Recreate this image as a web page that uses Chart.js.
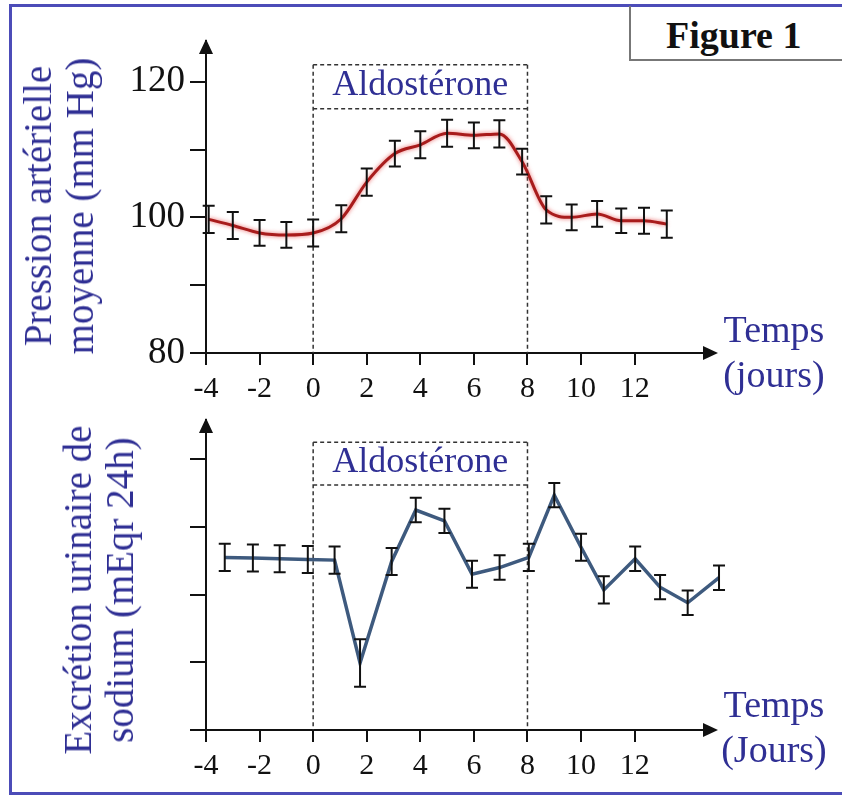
<!DOCTYPE html>
<html lang="fr">
<head>
<meta charset="UTF-8">
<title>Figure 1 - Aldostérone</title>
<script src="https://cdn.jsdelivr.net/npm/chart.js"></script>
<style>
    body {
        margin: 0;
        width: 842px;
        height: 796px;
        position: relative;
        overflow: hidden;
        background: #fff;
        font-family: 'Liberation Serif', 'Times New Roman', serif;
    }
    #frame {
        position: absolute;
        left: 9px;
        top: 4px;
        width: 850px;
        height: 785px;
        border: 3px solid #4c4cb8;
    }
    #figbox {
        position: absolute;
        left: 629px;
        top: 6px;
        width: 260px;
        height: 53px;
        border: 2px solid #777;
        border-top: none;
    }
    #figtext {
        position: absolute;
        left: 666px;
        top: 14px;
        font-size: 38px;
        line-height: 42px;
        font-weight: bold;
        color: #111;
    }
    .ytitle {
        position: absolute;
        transform: translate(-50%, -50%) rotate(-90deg);
        white-space: nowrap;
        text-align: center;
        font-size: 39px;
        line-height: 42px;
        color: #2f2f94;
    }
    .xtitle {
        position: absolute;
        width: 120px;
        text-align: center;
        font-size: 38px;
        line-height: 45px;
        color: #2f2f94;
    }
    .chart-box {
        position: absolute;
        left: 0;
        width: 842px;
    }
</style>
</head>
<body>
<div id="frame"></div>
<div id="figbox"></div>
<div id="figtext">Figure 1</div>

<div class="chart-box" style="top:0; height:410px;"><canvas id="pressureChart"></canvas></div>
<div class="chart-box" style="top:410px; height:386px;"><canvas id="sodiumChart"></canvas></div>

<div class="ytitle" style="left:59px; top:206px;">Pression artérielle<br>moyenne (mm Hg)</div>
<div class="ytitle" style="left:99px; top:590px;">Excrétion urinaire de<br>sodium (mEqr 24h)</div>
<div class="xtitle" style="left:714px; top:307px;">Temps<br>(jours)</div>
<div class="xtitle" style="left:714px; top:682px;">Temps<br>(Jours)</div>

<script>
    const xLabels = [-4, -2, 0, 2, 4, 6, 8, 10, 12];
    const pressureLabels = [80, 100, 120];
    const aldoPeriod = [0, 8];

    // pression artérielle moyenne (mm Hg)
    const pressureDays = [-3.9, -3.0, -2.0, -1.0, 0.0, 1.05, 2.0, 3.05, 4.0, 5.0, 6.0, 6.95, 7.8, 8.7, 9.65, 10.6, 11.5, 12.35, 13.2];
    const pressureValues = [99.7, 98.8, 97.7, 97.4, 97.7, 99.8, 105.2, 109.4, 110.7, 112.4, 112.1, 112.3, 108.2, 101.1, 100.0, 100.5, 99.5, 99.5, 99.0];
    const pressureErrors = [2.0, 2.0, 1.9, 1.9, 2.0, 2.0, 2.0, 1.9, 2.0, 2.0, 1.9, 2.0, 1.9, 2.0, 1.9, 1.9, 1.8, 1.9, 2.0];

    // excrétion urinaire de sodium (unités de graduation, pas d'étiquettes)
    const sodiumDays = [-3.3, -2.25, -1.25, -0.2, 0.8, 1.75, 2.93, 3.83, 4.9, 5.93, 6.96, 8.05, 9.0, 10.0, 10.85, 12.02, 12.95, 13.98, 15.15];
    const sodiumValues = [2.55, 2.54, 2.53, 2.52, 2.51, 0.99, 2.49, 3.25, 3.09, 2.30, 2.40, 2.55, 3.47, 2.70, 2.07, 2.53, 2.11, 1.88, 2.25];
    const sodiumErrors = [0.2, 0.2, 0.2, 0.2, 0.2, 0.35, 0.2, 0.18, 0.18, 0.2, 0.18, 0.2, 0.18, 0.2, 0.2, 0.18, 0.18, 0.18, 0.18];

    const FONT = "'Liberation Serif', 'Times New Roman', serif";
    const INK = '#111';
    const BLUE_TEXT = '#2f2f94';

    function toPoints(xs, ys) {
        return xs.map((x, i) => ({ x: x, y: ys[i] }));
    }

    const figureExtras = {
        id: 'figureExtras',
        beforeDatasetsDraw(chart, args, opts) {
            const { ctx, chartArea: area, scales: { x, y } } = chart;
            const x0 = x.getPixelForValue(aldoPeriod[0]);
            const x1 = x.getPixelForValue(aldoPeriod[1]);
            const yTop = y.getPixelForValue(opts.boxTop);
            const yBot = y.getPixelForValue(opts.boxBottom);
            ctx.save();
            ctx.strokeStyle = '#333';
            ctx.lineWidth = 1.5;
            ctx.setLineDash([4, 3]);
            ctx.beginPath();
            ctx.moveTo(x0, yTop); ctx.lineTo(x1, yTop);
            ctx.moveTo(x0, yBot); ctx.lineTo(x1, yBot);
            ctx.moveTo(x0, yTop); ctx.lineTo(x0, area.bottom);
            ctx.moveTo(x1, yTop); ctx.lineTo(x1, area.bottom);
            ctx.stroke();
            ctx.setLineDash([]);
            ctx.font = '36px ' + FONT;
            ctx.fillStyle = BLUE_TEXT;
            ctx.textAlign = 'center';
            ctx.textBaseline = 'alphabetic';
            ctx.fillText('Aldostérone', (x0 + x1) / 2, yTop + 30);
            ctx.restore();
        },
        beforeDatasetDraw(chart, args, opts) {
            if (!opts.glow) return;
            chart.ctx.save();
            chart.ctx.shadowColor = opts.glow;
            chart.ctx.shadowBlur = 4;
        },
        afterDatasetDraw(chart, args, opts) {
            if (!opts.glow) return;
            chart.ctx.restore();
        },
        afterDatasetsDraw(chart) {
            const { ctx, chartArea: area, scales: { x, y } } = chart;
            const ds = chart.data.datasets[0];
            ctx.save();
            ctx.strokeStyle = INK;
            ctx.lineWidth = 2;
            ds.data.forEach((p, i) => {
                const e = ds.errorBars[i];
                const px = x.getPixelForValue(p.x);
                const top = y.getPixelForValue(p.y + e);
                const bot = y.getPixelForValue(p.y - e);
                ctx.beginPath();
                ctx.moveTo(px, top); ctx.lineTo(px, bot);
                ctx.moveTo(px - 6, top); ctx.lineTo(px + 6, top);
                ctx.moveTo(px - 6, bot); ctx.lineTo(px + 6, bot);
                ctx.stroke();
            });

            // flèches des axes
            ctx.fillStyle = INK;
            ctx.beginPath();
            ctx.moveTo(area.left, area.top - 2);
            ctx.lineTo(area.left - 7, area.top + 13);
            ctx.lineTo(area.left + 7, area.top + 13);
            ctx.closePath();
            ctx.fill();
            ctx.beginPath();
            ctx.moveTo(area.right + 3, area.bottom);
            ctx.lineTo(area.right - 12, area.bottom - 7);
            ctx.lineTo(area.right - 12, area.bottom + 7);
            ctx.closePath();
            ctx.fill();
            ctx.restore();
        }
    };

    function makeOptions(cfg) {
        return {
            responsive: true,
            maintainAspectRatio: false,
            animation: false,
            layout: { padding: { top: cfg.padTop, right: 127, left: 0, bottom: 0 } },
            plugins: {
                legend: { display: false },
                tooltip: { enabled: false },
                figureExtras: { boxTop: cfg.boxTop, boxBottom: cfg.boxBottom, glow: cfg.glow }
            },
            scales: {
                x: {
                    type: 'linear',
                    min: -4,
                    max: 15,
                    afterFit: s => { s.height = cfg.xHeight; },
                    border: { display: true, color: INK, width: 2 },
                    grid: { drawOnChartArea: false, color: INK, tickColor: INK, lineWidth: 2, tickLength: 12 },
                    ticks: {
                        stepSize: 2,
                        includeBounds: false,
                        autoSkip: false,
                        maxRotation: 0,
                        padding: 6,
                        color: INK,
                        font: { family: FONT, size: 30 },
                        callback: v => xLabels.includes(v) ? String(v) : null
                    }
                },
                y: {
                    min: cfg.yMin,
                    max: cfg.yMax,
                    afterFit: s => { s.width = 206; },
                    border: { display: true, color: INK, width: 2 },
                    grid: { drawOnChartArea: false, color: INK, tickColor: INK, lineWidth: 2, tickLength: 16 },
                    ticks: {
                        stepSize: cfg.yStep,
                        includeBounds: false,
                        padding: 5,
                        color: INK,
                        font: { family: FONT, size: cfg.yFontSize },
                        callback: cfg.yLabel
                    }
                }
            }
        };
    }

    new Chart(document.getElementById('pressureChart'), {
        type: 'line',
        data: {
            datasets: [{
                data: toPoints(pressureDays, pressureValues),
                errorBars: pressureErrors,
                borderColor: '#a81c1c',
                borderWidth: 3,
                pointRadius: 0,
                cubicInterpolationMode: 'monotone',
                tension: 0.4,
                clip: false
            }]
        },
        options: makeOptions({
            padTop: 41, xHeight: 57,
            yMin: 80, yMax: 126, yStep: 10, yFontSize: 37,
            yLabel: v => pressureLabels.includes(v) ? String(v) : '',
            boxTop: 122.5, boxBottom: 116.0,
            glow: 'rgba(230, 70, 70, 0.8)'
        }),
        plugins: [figureExtras]
    });

    new Chart(document.getElementById('sodiumChart'), {
        type: 'line',
        data: {
            datasets: [{
                data: toPoints(sodiumDays, sodiumValues),
                errorBars: sodiumErrors,
                borderColor: '#3e5a7e',
                borderWidth: 3.5,
                pointRadius: 0,
                tension: 0,
                clip: false
            }]
        },
        options: makeOptions({
            padTop: 10, xHeight: 66,
            yMin: 0, yMax: 4.58, yStep: 1, yFontSize: 4,
            yLabel: () => '',
            boxTop: 4.25, boxBottom: 3.62,
            glow: null
        }),
        plugins: [figureExtras]
    });
</script>
</body>
</html>
